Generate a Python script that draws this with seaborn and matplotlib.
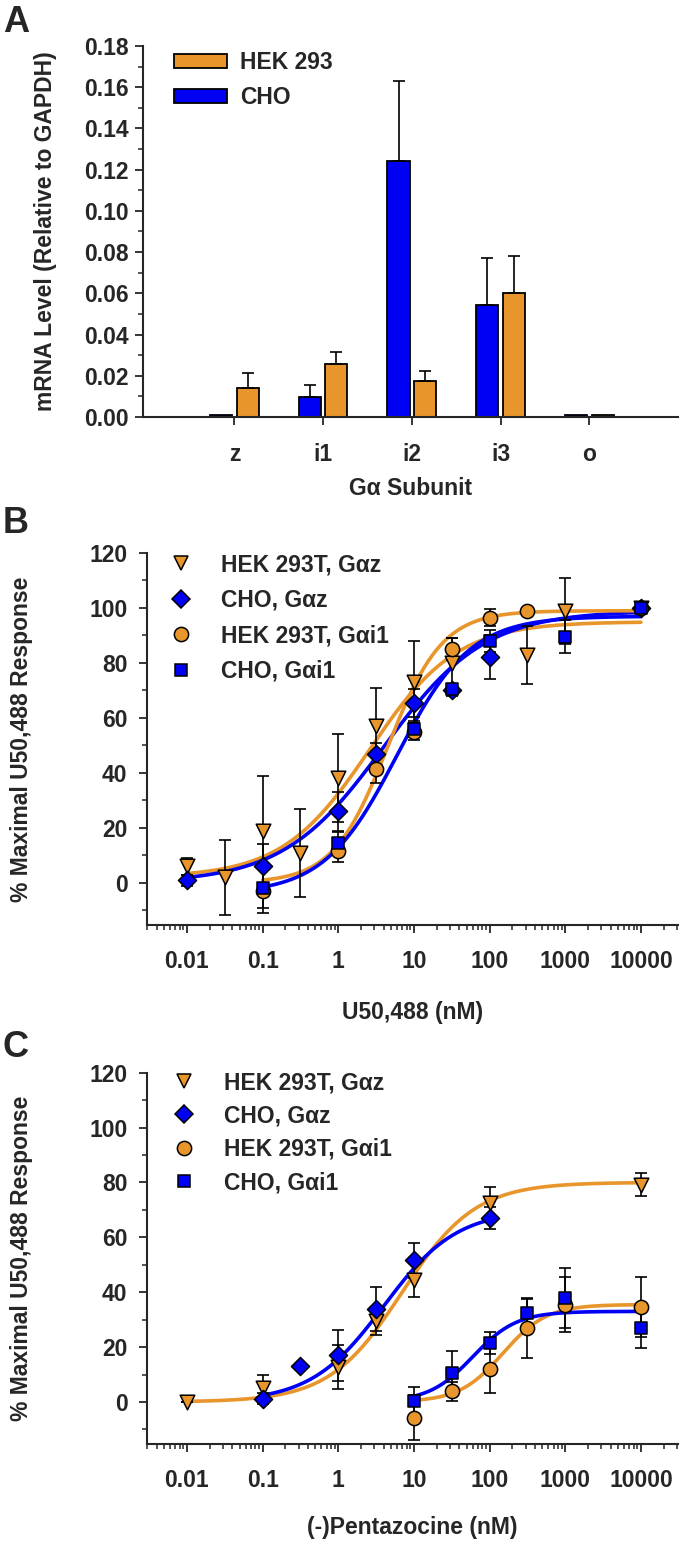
import numpy as np
import pandas as pd
import matplotlib
matplotlib.use("Agg")
import matplotlib.pyplot as plt
from matplotlib.lines import Line2D
from matplotlib.ticker import MultipleLocator, LogLocator, NullFormatter, FormatStrFormatter
import seaborn as sns

sns.set_style("ticks")
plt.rcParams["font.family"] = ["Liberation Sans", "DejaVu Sans"]
plt.rcParams["font.weight"] = "bold"
plt.rcParams["axes.labelweight"] = "bold"

ORANGE = "#E8962C"
BLUE = "#0000F5"

# ---- Panel A: mRNA levels
subunits = ["z", "i1", "i2", "i3", "o"]
cho_level = [0.0008, 0.0097, 0.124, 0.0543, 0.0008]
cho_err = [0.0, 0.0058, 0.039, 0.023, 0.0]
hek_level = [0.0141, 0.0257, 0.0175, 0.0602, 0.0008]
hek_err = [0.007, 0.0058, 0.005, 0.018, 0.0]

# ---- Panel B: U50,488 concentration-response (nM, % max)
b_hekz_x = [0.01, 0.0316, 0.1, 0.316, 1, 3.16, 10, 31.6, 316, 1000, 10000]
b_hekz_y = [6, 2, 19, 11, 38, 57, 73, 80, 83, 99, 100]
b_hekz_e = [3, 13.5, 20, 16, 16, 14, 15, 9, 10.5, 12, 0]
b_choz_x = [0.01, 0.1, 1, 3.16, 10, 31.6, 100, 10000]
b_choz_y = [1, 6, 26, 47, 65.5, 70, 82, 100]
b_choz_e = [2, 8, 7, 4, 5, 2, 8, 0]
b_heki_x = [0.1, 1, 3.16, 10, 31.6, 100, 316, 10000]
b_heki_y = [-3, 11.5, 41.5, 55, 85, 96.5, 99, 100]
b_heki_e = [8, 4, 5, 3, 4, 3, 0, 0]
b_choi_x = [0.1, 1, 10, 31.6, 100, 1000, 10000]
b_choi_y = [-2, 14.5, 56, 70.5, 88, 89.5, 100]
b_choi_e = [7, 4, 3, 2, 4, 6, 0]
# fitted curve parameters: bottom, top, EC50 (nM), Hill slope
b_fits = {"hekz": [2, 95, 2.6, 0.75], "choz": [0, 99, 4.0, 0.65],
          "heki": [0, 99, 4.5, 1.2], "choi": [-4, 97, 6.0, 0.9]}

# ---- Panel C: (-)Pentazocine concentration-response
c_hekz_x = [0.01, 0.1, 1, 3.16, 10, 100, 10000]
c_hekz_y = [0, 5.2, 12.7, 29.5, 44.6, 72.5, 79.2]
c_hekz_e = [0, 4.5, 8, 5, 6.5, 6, 4.3]
c_choz_x = [0.1, 0.316, 1, 3.16, 10, 100]
c_choz_y = [1.2, 13, 17, 33.9, 51.6, 67]
c_choz_e = [2, 0, 9.4, 8, 6.5, 4]
c_heki_x = [10, 31.6, 100, 316, 1000, 10000]
c_heki_y = [-5.7, 3.9, 12.1, 27, 35.5, 34.5]
c_heki_e = [8.2, 3.5, 8.8, 11, 10, 11]
c_choi_x = [10, 31.6, 100, 316, 1000, 10000]
c_choi_y = [0.4, 10.7, 21.6, 32.5, 37.9, 27]
c_choi_e = [5, 8, 4, 5, 11, 7.5]
c_fits = {"hekz": [0, 80, 7.0, 0.9], "choz": [0, 70, 4.0, 0.9],
          "heki": [0, 35.5, 150, 1.5], "choi": [0, 33, 60, 1.5]}

series_names = ["HEK 293T, G\u03b1z", "CHO, G\u03b1z", "HEK 293T, G\u03b1i1", "CHO, G\u03b1i1"]
series_style = {"hekz": ("v", ORANGE, 110), "choz": ("D", BLUE, 85),
                "heki": ("o", ORANGE, 105), "choi": ("s", BLUE, 80)}

FS = 16.5
fig = plt.figure(figsize=(6.81, 15.46), dpi=100)


def style_axes(ax):
    sns.despine(ax=ax)
    for s in ["left", "bottom"]:
        ax.spines[s].set_linewidth(1.5)
    ax.tick_params(which="major", length=6, width=1.3, labelsize=FS)
    ax.tick_params(which="minor", length=3.5, width=1.1)


# ================= Panel A
axA = fig.add_axes([0.21, 0.7303, 0.7856, 0.24])
dfA = pd.DataFrame({
    "subunit": subunits * 2,
    "level": cho_level + hek_level,
    "cell": ["CHO"] * 5 + ["HEK 293"] * 5,
})
sns.barplot(data=dfA, x="subunit", y="level", hue="cell", order=subunits,
            hue_order=["CHO", "HEK 293"], palette={"CHO": BLUE, "HEK 293": ORANGE},
            width=0.6, gap=0.17, errorbar=None, edgecolor="black", linewidth=1.3,
            saturation=1, ax=axA)
for cont, errs in zip(axA.containers, [cho_err, hek_err]):
    for bar, e in zip(cont, errs):
        if e > 0:
            xc = bar.get_x() + bar.get_width() / 2
            axA.errorbar(xc, bar.get_height(), yerr=[[0], [e]], fmt="none",
                         ecolor="black", elinewidth=1.2, capsize=4, capthick=1.2)
axA.set_xlim(-1.03, 5.0)
axA.set_ylim(0, 0.18)
axA.yaxis.set_major_locator(MultipleLocator(0.02))
axA.yaxis.set_minor_locator(MultipleLocator(0.01))
axA.yaxis.set_major_formatter(FormatStrFormatter("%.2f"))
style_axes(axA)
axA.tick_params(axis="x", pad=13)
axA.tick_params(axis="y", pad=4)
axA.set_xlabel("G\u03b1 Subunit", fontsize=FS, labelpad=8)
axA.set_ylabel("mRNA Level (Relative to GAPDH)", fontsize=FS)
axA.yaxis.set_label_coords(-0.16, 0.5)
h, l = axA.get_legend_handles_labels()
axA.legend([h[1], h[0]], [l[1], l[0]], loc="upper left", bbox_to_anchor=(0.058, 0.985),
           frameon=False, fontsize=FS, handlelength=2.3, handleheight=0.55,
           handletextpad=0.6, labelspacing=0.5, borderaxespad=0, borderpad=0)


# ================= Panels B and C
def logistic(x, p):
    bottom, top, ec50, hill = p
    return bottom + (top - bottom) / (1 + (ec50 / x) ** hill)


def dose_panel(ax, data, fits, xlabel, legend_anchor, spacing, xlabelpad):
    for key, (xs, ys, es) in data.items():
        marker, color, size = series_style[key]
        xs = np.asarray(xs, float)
        xf = np.logspace(np.log10(xs.min()), np.log10(xs.max()), 300)
        sns.lineplot(x=xf, y=logistic(xf, fits[key]), color=color, linewidth=2.6,
                     ax=ax, zorder=1, estimator=None)
    for key, (xs, ys, es) in data.items():
        marker, color, size = series_style[key]
        ax.errorbar(xs, ys, yerr=es, fmt="none", ecolor="black", elinewidth=1.2,
                    capsize=4, capthick=1.2, zorder=2)
        sns.scatterplot(x=xs, y=ys, marker=marker, s=size, color=color,
                        edgecolor="black", linewidth=1.1, ax=ax, zorder=3)
    ax.set_xscale("log")
    ax.set_xlim(10 ** -2.527, 10 ** 4.49)
    ax.set_ylim(-15.3, 120)
    ticks = [0.01, 0.1, 1, 10, 100, 1000, 10000]
    ax.set_xticks(ticks, ["0.01", "0.1", "1", "10", "100", "1000", "10000"])
    ax.xaxis.set_minor_locator(LogLocator(base=10, subs=np.arange(2, 10)))
    ax.xaxis.set_minor_formatter(NullFormatter())
    ax.yaxis.set_minor_locator(MultipleLocator(10))
    ax.set_yticks([0, 20, 40, 60, 80, 100, 120])
    style_axes(ax)
    ax.tick_params(axis="x", pad=12)
    ax.tick_params(axis="y", pad=8)
    ax.set_xlabel(xlabel, fontsize=FS, labelpad=xlabelpad)
    ax.set_ylabel("% Maximal U50,488 Response", fontsize=FS)
    ax.yaxis.set_label_coords(-0.215, 0.5)
    handles = [Line2D([], [], marker=series_style[k][0], linestyle="none",
                      markersize=np.sqrt(series_style[k][2]), markerfacecolor=series_style[k][1],
                      markeredgecolor="black", markeredgewidth=1.1)
               for k in ["hekz", "choz", "heki", "choi"]]
    ax.legend(handles, series_names, loc="upper left", bbox_to_anchor=legend_anchor,
              frameon=False, fontsize=FS, handletextpad=0.75, labelspacing=spacing,
              borderaxespad=0, borderpad=0)


axB = fig.add_axes([0.2159, 0.4017, 0.7797, 0.2406])
dose_panel(axB, {"hekz": (b_hekz_x, b_hekz_y, b_hekz_e), "choz": (b_choz_x, b_choz_y, b_choz_e),
                 "heki": (b_heki_x, b_heki_y, b_heki_e), "choi": (b_choi_x, b_choi_y, b_choi_e)},
           b_fits, "U50,488 (nM)", (0.02, 1.0), 0.55, 20)

axC = fig.add_axes([0.2159, 0.066, 0.7797, 0.2402])
dose_panel(axC, {"hekz": (c_hekz_x, c_hekz_y, c_hekz_e), "choz": (c_choz_x, c_choz_y, c_choz_e),
                 "heki": (c_heki_x, c_heki_y, c_heki_e), "choi": (c_choi_x, c_choi_y, c_choi_e)},
           c_fits, "(-)Pentazocine (nM)", (0.026, 1.004), 0.45, 17)

for letter, ytop in [("A", 5), ("B", 506), ("C", 1030)]:
    fig.text(0.004, 1 - ytop / 1546, letter, fontsize=26, fontweight="bold", va="top", ha="left")

fig.savefig("out.png", dpi=100)
